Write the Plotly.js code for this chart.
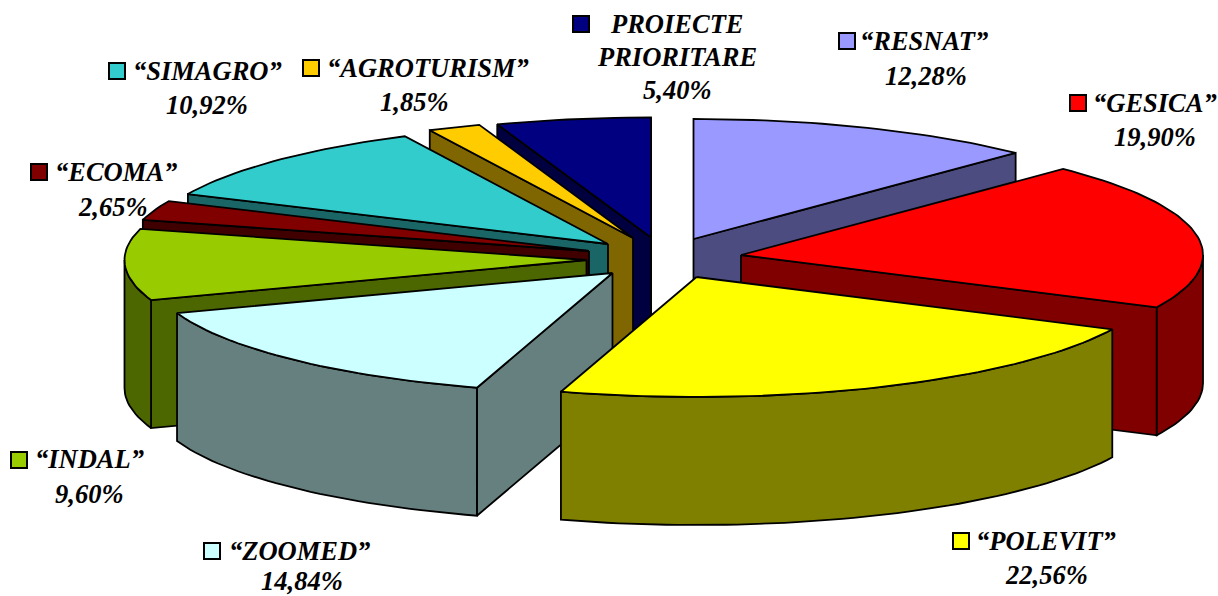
<!DOCTYPE html>
<html>
<head>
<meta charset="utf-8">
<script src="https://cdn.plot.ly/plotly-3.0.1.min.js"></script>
<style>html,body{margin:0;padding:0;background:#fff}#chart{width:1218px;height:596px}</style>
</head>
<body>
<div id="chart"></div>
<script>
// ---- data, clockwise from 12 o'clock ----
const categories = ['“RESNAT”','“GESICA”','“POLEVIT”','“ZOOMED”','“INDAL”','“ECOMA”','“SIMAGRO”','“AGROTURISM”','PROIECTE PRIORITARE'];
const values = [12.28,19.90,22.56,14.84,9.60,2.65,10.92,1.85,5.40];

// ---- styles ----
const topColors  = ['#9999FF','#FF0000','#FFFF00','#CCFFFF','#99CC00','#800000','#33CCCC','#FFCC00','#000080'];
const wallColors = ['#4C4C80','#800000','#808000','#668080','#4C6600','#400000','#1A6666','#806600','#000040'];

// ---- 3D pie projection ----
const RX = 462, RY = 120, DEPTH = 128;
const hubX = [693.5,741,696.5,612.5,586.5,589,608,633,651];
const hubY = [239,255,277,273,260,251,244,238,237.5];
const paintOrder = [8,0,7,6,5,4,3,1,2];

// ---- label placement ----
const swatchX = [847,1078,961,212,19,39,117,311,581];
const swatchY = [41,103,541,551,460,172,71,68,24];
const nameX   = [860,1093,976,229,35,55,133,327,610];
const nameY   = [41,103,541,551,459,172,71,68,24];
const pctX    = [926,1155,1046,302,89,112,207,414,677];
const pctY    = [76,137,575,581,494,207,105,102,90];

const edges = [0];
values.forEach(v => edges.push(edges[edges.length-1] + v*3.6));

function rim(i, deg, dz){
  const a = deg*Math.PI/180;
  return [hubX[i] + RX*Math.sin(a), hubY[i] - RY*Math.cos(a) + dz];
}
function arc(i, a0, a1, dz){
  const n = Math.max(2, Math.ceil(Math.abs(a1-a0)/1.5));
  const pts = [];
  for(let k=0;k<=n;k++) pts.push(rim(i, a0+(a1-a0)*k/n, dz));
  return pts;
}
function poly(pts, fill, name, hover){
  const c = pts.concat([pts[0]]);
  return {type:'scatter', mode:'lines', x:c.map(p=>p[0]), y:c.map(p=>p[1]),
    fill:'toself', fillcolor:fill, line:{color:'#000',width:1.8,shape:'linear'},
    name:name, hoverinfo:hover?'text':'skip', text:hover||undefined, showlegend:false};
}
const traces = [];
paintOrder.forEach(i=>{
  const a0 = edges[i], a1 = edges[i+1];
  const hub = [hubX[i],hubY[i]], hubLow = [hubX[i],hubY[i]+DEPTH];
  // radial walls that face the viewer
  if(Math.sin(a0*Math.PI/180) < 0) traces.push(poly([hub, rim(i,a0,0), rim(i,a0,DEPTH), hubLow], wallColors[i], categories[i]));
  if(Math.sin(a1*Math.PI/180) > 0) traces.push(poly([hub, rim(i,a1,0), rim(i,a1,DEPTH), hubLow], wallColors[i], categories[i]));
  // front rim wall
  const f0 = Math.max(a0,90), f1 = Math.min(a1,270);
  if(f1 > f0){
    traces.push(poly(arc(i,f0,f1,0).concat(arc(i,f1,f0,DEPTH)), wallColors[i], categories[i]));
  }
  // top face
  traces.push(poly([hub].concat(arc(i,a0,a1,0)), topColors[i], categories[i], categories[i]+' '+values[i]+'%'));
});
traces.push({type:'scatter', mode:'markers', x:swatchX, y:swatchY, hoverinfo:'skip', showlegend:false,
  marker:{symbol:'square', size:16, color:topColors, line:{color:'#000',width:2}}});

const pct = values.map(v => v.toFixed(2).replace('.',',') + '%');
const FONT = {family:'"Liberation Serif", serif', size:26.5, color:'#000'};
const annotations = [];
function label(text,x,y,anchor){
  annotations.push({text:'<b><i>'+text+'</i></b>', x:x, y:y, xref:'x', yref:'y', xanchor:anchor, yanchor:'middle',
    showarrow:false, font:FONT, borderpad:0, borderwidth:0});
}
categories.forEach((c,i)=>{
  if(i === 8){
    const parts = c.split(' ');
    label(parts[0], pctX[i], nameY[i], 'center');
    label(parts[1], pctX[i], nameY[i]+33, 'center');
  } else {
    label(c, nameX[i], nameY[i], 'left');
  }
  label(pct[i], pctX[i], pctY[i], 'center');
});

Plotly.newPlot('chart', traces, {
  width:1218, height:596, margin:{l:0,r:0,t:0,b:0}, paper_bgcolor:'#fff', plot_bgcolor:'#fff',
  xaxis:{range:[0,1218], visible:false, fixedrange:true},
  yaxis:{range:[596,0], visible:false, fixedrange:true},
  showlegend:false, annotations:annotations
}, {displayModeBar:false, staticPlot:true});
</script>
</body>
</html>
